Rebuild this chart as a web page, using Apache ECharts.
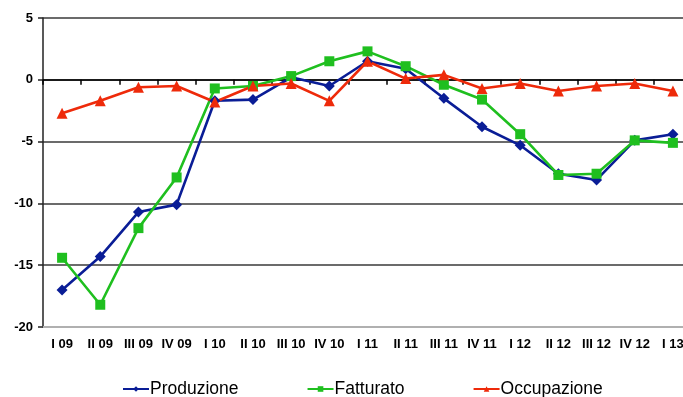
<!DOCTYPE html>
<html>
<head>
<meta charset="utf-8">
<script src="https://cdn.jsdelivr.net/npm/echarts@6/dist/echarts.min.js"></script>
<style>
  html, body { margin: 0; padding: 0; background: #fff; }
  #chart { width: 683px; height: 397px; }
</style>
</head>
<body>
<div id="chart"></div>
<script>
// Quarterly indicators, 2009 - 2013
const quarters = ['I 09', 'II 09', 'III 09', 'IV 09', 'I 10', 'II 10', 'III 10', 'IV 10',
  'I 11', 'II 11', 'III 11', 'IV 11', 'I 12', 'II 12', 'III 12', 'IV 12', 'I 13'];

const produzione = [-17.0, -14.3, -10.7, -10.1, -1.7, -1.6, 0.2, -0.5,
  1.5, 0.9, -1.5, -3.8, -5.3, -7.6, -8.1, -4.9, -4.4];

const fatturato = [-14.4, -18.2, -12.0, -7.9, -0.7, -0.5, 0.3, 1.5,
  2.3, 1.1, -0.4, -1.6, -4.4, -7.7, -7.6, -4.9, -5.1];

const occupazione = [-2.7, -1.7, -0.6, -0.5, -1.8, -0.5, -0.3, -1.7,
  1.5, 0.1, 0.4, -0.7, -0.3, -0.9, -0.5, -0.3, -0.9];

const yMin = -20, yMax = 5, yStep = 5;

const chart = echarts.init(document.getElementById('chart'), null, { renderer: 'canvas' });

const lineSeries = (name, data, color, symbol, size) => ({
  name, type: 'line', data,
  xAxisIndex: 0,
  symbol, symbolSize: size,
  lineStyle: { color, width: 2.6 },
  itemStyle: { color },
  emphasis: { disabled: true },
  animation: false,
  z: 5
});

chart.setOption({
  backgroundColor: '#fff',
  textStyle: { fontFamily: 'Liberation Sans, Arial, sans-serif' },
  grid: { left: 43, right: -9, top: 18, bottom: 70, outerBoundsMode: 'none' },
  legend: {
    top: 375,
    left: 117,
    itemGap: 68,
    itemWidth: 26,
    itemHeight: 7,
    textStyle: { fontSize: 17.5, color: '#000', padding: [0, 0, 0, -4] },
    data: ['Produzione', 'Fatturato', 'Occupazione']
  },
  xAxis: [
    {
      type: 'category',
      data: quarters,
      position: 'bottom',
      boundaryGap: true,
      axisLine: { show: true, onZero: false, lineStyle: { color: '#b0b0b0', width: 2 } },
      axisTick: { show: false },
      axisLabel: { color: '#000', fontSize: 13, fontWeight: 'bold', margin: 11, interval: 0 },
      splitLine: { show: false }
    },
    {
      type: 'category',
      data: quarters,
      position: 'top',
      boundaryGap: true,
      axisLine: { show: true, onZero: true, lineStyle: { color: '#000', width: 1.5 } },
      axisTick: { show: true, inside: true, length: 5, interval: 0, lineStyle: { color: '#000', width: 1.5 } },
      axisLabel: { show: false },
      splitLine: { show: false }
    }
  ],
  yAxis: {
    type: 'value',
    min: yMin, max: yMax, interval: yStep,
    axisLine: { show: true, lineStyle: { color: '#222', width: 1.5 } },
    axisTick: { show: true, length: 5, lineStyle: { color: '#222', width: 1.5 } },
    axisLabel: { color: '#000', fontSize: 13, fontWeight: 'bold', margin: 10 },
    splitLine: { show: true, lineStyle: { color: '#3a3a3a', width: 1.5 } }
  },
  series: [
    lineSeries('Produzione', produzione, '#0a1d96', 'diamond', 11),
    lineSeries('Fatturato', fatturato, '#1fbf1f', 'rect', 10),
    lineSeries('Occupazione', occupazione, '#ee2a0a', 'triangle', 11)
  ]
});
</script>
</body>
</html>
